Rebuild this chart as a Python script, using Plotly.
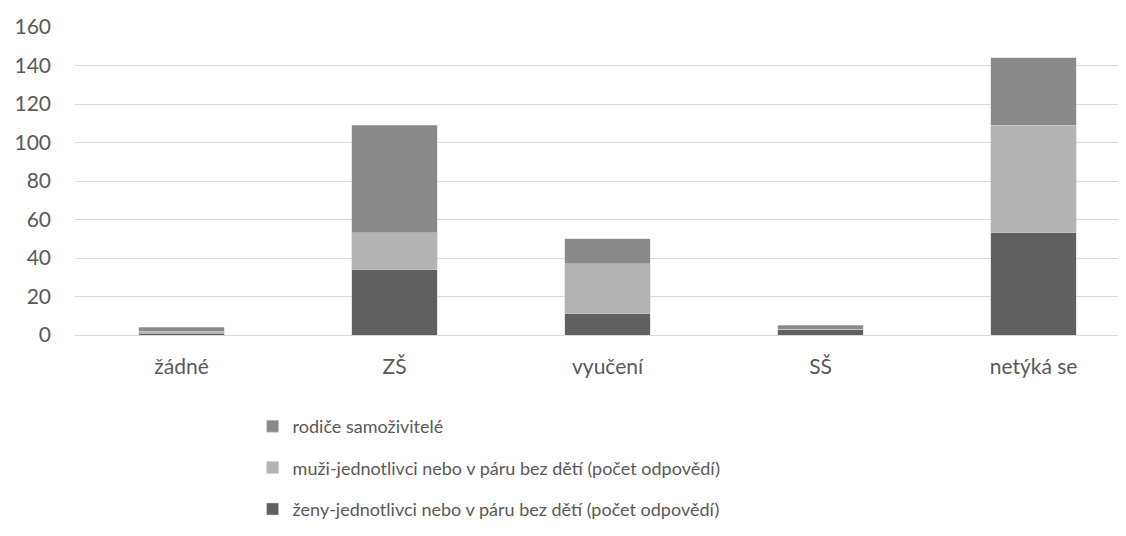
import plotly.graph_objects as go

# categories on the x axis
kategorie = ["žádné", "ZŠ", "vyučení", "SŠ", "netýká se"]

# stacked series (bottom to top)
zeny = [1, 34, 11, 3, 53]
muzi = [1, 19, 26, 0, 56]
rodice = [2, 56, 13, 2, 35]

nazvy = [
    "ženy-jednotlivci nebo v páru bez dětí (počet odpovědí)",
    "muži-jednotlivci nebo v páru bez dětí (počet odpovědí)",
    "rodiče samoživitelé",
]
barvy = ["#606060", "#b3b3b3", "#898989"]

fig = go.Figure()
for i, (vals, name, col) in enumerate(zip([zeny, muzi, rodice], nazvy, barvy)):
    fig.add_trace(go.Bar(
        x=kategorie,
        y=vals,
        name=name,
        marker=dict(color=col, line=dict(color="#d0d0d0", width=0.5)),
        width=0.4,
        legendgroup=str(i),
        legendrank=3 - i,
    ))

fig.update_layout(
    barmode="stack",
    width=1118,
    height=528,
    margin=dict(l=67, r=0, t=19, b=201, autoexpand=False),
    plot_bgcolor="white",
    paper_bgcolor="white",
    font=dict(family="Lato", size=18, color="#595959"),
    legend=dict(
        traceorder="grouped",
        tracegroupgap=15,
        orientation="v",
        x=0.169,
        y=-0.237,
        xanchor="left",
        yanchor="top",
        font=dict(family="Lato", size=18, color="#595959"),
        itemwidth=30,
    ),
)

fig.update_xaxes(
    type="category",
    range=[-0.5, 4.434],
    showgrid=False,
    showline=False,
    ticks="",
    ticklabelstandoff=17,
    tickfont=dict(size=21, color="#595959"),
)
fig.update_yaxes(
    range=[0, 160],
    dtick=20,
    showgrid=True,
    gridcolor="#d9d9d9",
    gridwidth=1,
    zeroline=True,
    zerolinecolor="#d9d9d9",
    zerolinewidth=1,
    showline=False,
    ticks="",
    ticklabelstandoff=23,
    tickfont=dict(size=21, color="#595959"),
)

fig.write_html("out.html")
